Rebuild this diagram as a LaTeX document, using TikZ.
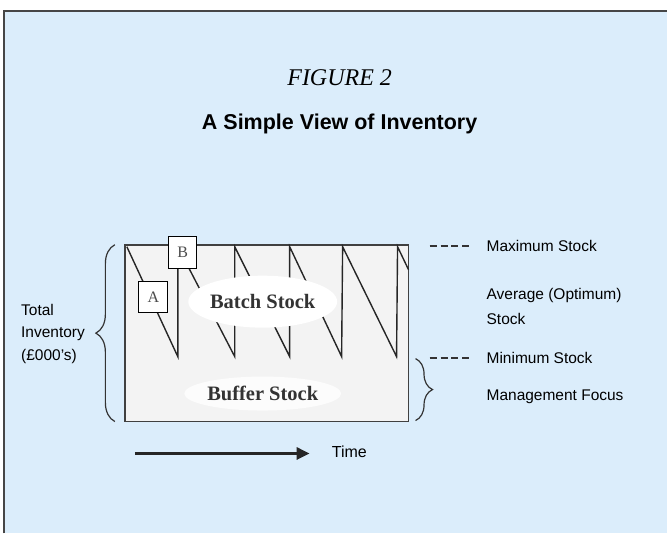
\documentclass[tikz,border=0pt]{standalone}
\usepackage{fontspec}
\setmainfont{Liberation Serif}
\setsansfont{Liberation Sans}
\usetikzlibrary{arrows.meta,shapes.geometric,decorations.pathreplacing}
\definecolor{panelblue}{RGB}{219, 237, 251}
\definecolor{framegrey}{RGB}{70, 70, 70}
\definecolor{chartgrey}{RGB}{243, 243, 243}
\definecolor{textblack}{RGB}{0, 0, 0}

\begin{document}
\begin{tikzpicture}[
        x=1pt, y=-1pt,
        label/.style={anchor=west, inner sep=0pt, font=\sffamily\fontsize{15.5}{25}\selectfont, text=textblack, align=left},
        stocktext/.style={ellipse, fill=white, inner sep=0pt, font=\rmfamily\bfseries\fontsize{20.5}{22}\selectfont, text=black!80},
        letterbox/.style={rectangle, draw=black, fill=white, line width=1.2pt, font=\rmfamily\fontsize{16}{16}\selectfont, text=black!70},
        saw/.style={line width=1.4pt, color=black!85},
        levelline/.style={line width=1.8pt, dash pattern=on 7pt off 4pt, color=black!80},
        bracket/.style={decorate, decoration={brace, amplitude=#1}, line width=1.2pt, color=black!80},
        timearrow/.style={-{Triangle[length=13pt, width=12pt]}, line width=2.8pt, color=black!85}
    ]

    % Page and panel
    \fill[white] (0,0) rectangle (668,534);
    \fill[panelblue] (4,11) rectangle (668,534);
    \draw[framegrey, line width=1.5pt] (4,534) -- (4,11) -- (668,11);

    % Titles
    \node[anchor=base, inner sep=0pt, font=\rmfamily\itshape\fontsize{24}{24}\selectfont] (figno) at (340,86) {FIGURE 2};
    \node[anchor=base, inner sep=0pt, font=\sffamily\bfseries\fontsize{21.5}{22}\selectfont] (title) at (340,130) {A Simple View of Inventory};

    % Chart area
    \node[rectangle, draw=black!75, fill=chartgrey, line width=1.8pt, minimum width=284pt, minimum height=177pt, inner sep=0pt] (chart) at (267,333.5) {};

    % Saw-tooth stock level
    \draw[saw] (127,247) -- (178,357) -- (178,247) -- (235,357) -- (235,247) -- (290,357) -- (290,247)
        -- (342,357) -- (343,247) -- (397,357) -- (398,247) -- (409,270);

    % Stock labels
    \node[stocktext, minimum width=130pt, minimum height=52pt] (batch) at (263,302) {Batch Stock};
    \node[stocktext, fill=white!75!chartgrey, minimum width=120pt, minimum height=34pt] (buffer) at (263,394) {Buffer Stock};

    % Order points
    \node[letterbox, minimum width=29pt, minimum height=31pt] (boxA) at (153.5,297.5) {A};
    \node[letterbox, minimum width=28pt, minimum height=32pt] (boxB) at (183,253) {B};

    % Left side
    \draw[bracket=19pt] (115,422) -- (115,245);
    \node[label, font=\sffamily\fontsize{15.5}{22.5}\selectfont] (total) at (21,334) {Total\\Inventory\\(£000’s)};

    % Right side levels
    \node[label] (maxlbl) at (487,246) {Maximum Stock};
    \node[label, anchor=north west] (avglbl) at (487,288) {Average (Optimum)\\Stock};
    \node[label] (minlbl) at (487,358) {Minimum Stock};
    \node[label] (mgmtlbl) at (487,397) {Management Focus};
    \coordinate (maxend) at (430,246);
    \coordinate (minend) at (430,358);
    \draw[levelline] (maxend) -- ([xshift=-14pt]maxlbl.west);
    \draw[levelline] (minend) -- ([xshift=-14pt]minlbl.west);
    \draw[bracket=17pt] (416,359) -- (416,421);

    % Time axis
    \node[label, font=\sffamily\fontsize{16}{16}\selectfont] (timelbl) at (332,452) {Time};
    \coordinate (tstart) at (135,454);
    \coordinate (tend) at (310,454);
    \draw[timearrow] (tstart) -- (tend);

\end{tikzpicture}
\end{document}
